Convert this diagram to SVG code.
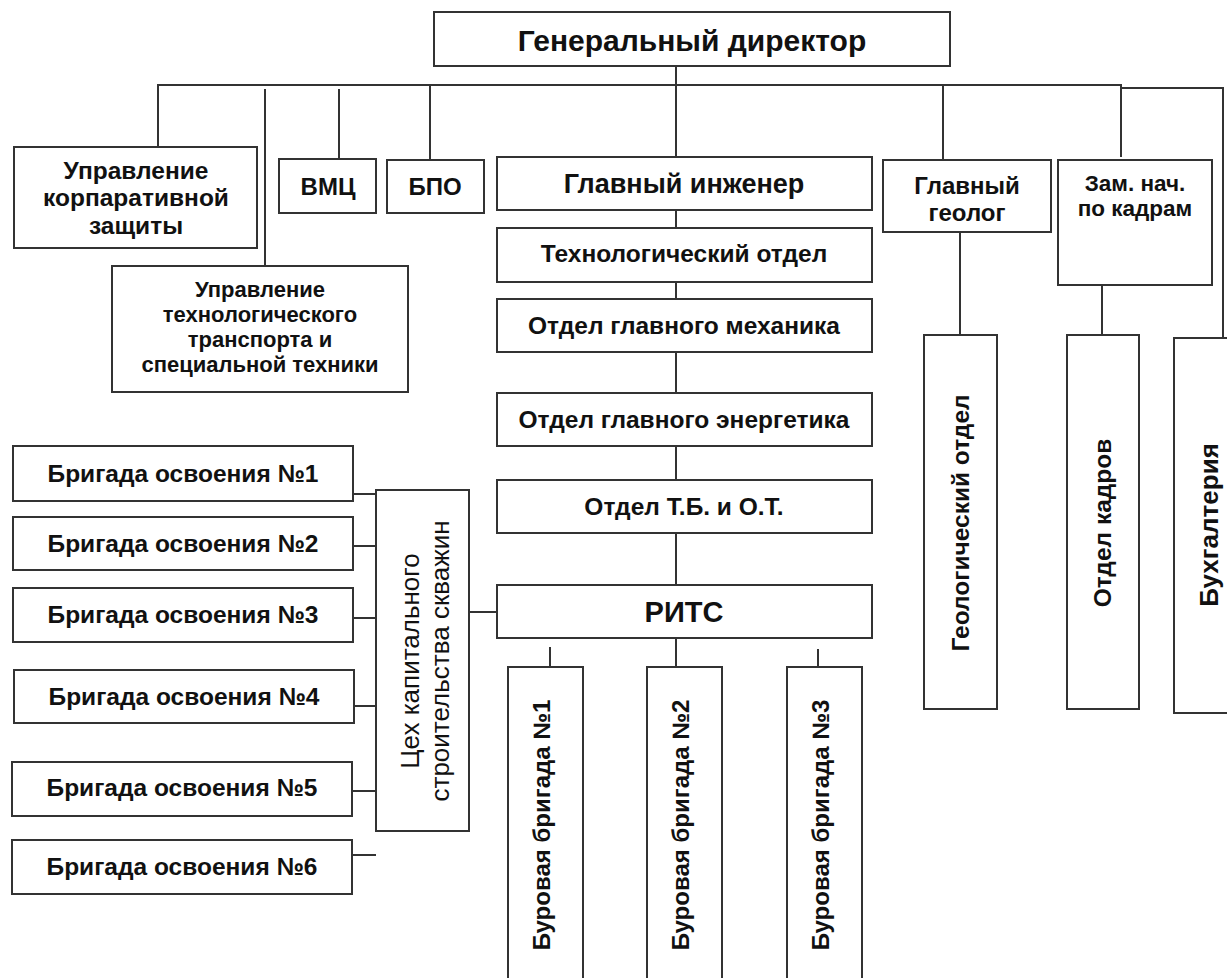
<svg xmlns="http://www.w3.org/2000/svg" width="1227" height="978" viewBox="0 0 1227 978">
<style>
.b{fill:#fff;stroke:#333;stroke-width:2}
.c{fill:none;stroke:#333;stroke-width:2}
text{font-family:"Liberation Sans",Arial,sans-serif;font-weight:bold;fill:#111;text-anchor:middle}
.n{font-weight:normal}
</style>
<rect width="1227" height="978" fill="#fff"/>
<g id="connectors">
<polyline class="c" points="158,147 158,85 1121,85 1121,157"/>
<polyline class="c" points="1121,88 1223,88 1223,338"/>
<line class="c" x1="676" y1="66" x2="676" y2="157"/>
<line class="c" x1="265" y1="89" x2="265" y2="266"/>
<line class="c" x1="339" y1="89" x2="339" y2="159"/>
<line class="c" x1="430" y1="85" x2="430" y2="160"/>
<line class="c" x1="943" y1="85" x2="943" y2="160"/>
<line class="c" x1="676" y1="210" x2="676" y2="228"/>
<line class="c" x1="676" y1="282" x2="676" y2="299"/>
<line class="c" x1="676" y1="352" x2="676" y2="393"/>
<line class="c" x1="676" y1="446" x2="676" y2="480"/>
<line class="c" x1="676" y1="533" x2="676" y2="585"/>
<line class="c" x1="676" y1="638" x2="676" y2="667"/>
<line class="c" x1="550" y1="647" x2="550" y2="667"/>
<line class="c" x1="818" y1="649" x2="818" y2="667"/>
<line class="c" x1="469" y1="612" x2="497" y2="612"/>
<line class="c" x1="960" y1="232" x2="960" y2="335"/>
<line class="c" x1="1102" y1="285" x2="1102" y2="335"/>
<line class="c" x1="353" y1="494" x2="376" y2="494"/>
<line class="c" x1="353" y1="546" x2="376" y2="546"/>
<line class="c" x1="353" y1="618" x2="376" y2="618"/>
<line class="c" x1="354" y1="706" x2="376" y2="706"/>
<line class="c" x1="352" y1="791" x2="376" y2="791"/>
<line class="c" x1="352" y1="855" x2="376" y2="855"/>
</g>
<g id="gen-director"><rect class="b" x="434" y="12" width="516" height="54"/><text x="692" y="51" font-size="30">Генеральный директор</text></g>
<g id="ukz"><rect class="b" x="14" y="147" width="243" height="101"/><text x="136" y="179" font-size="24.5">Управление</text><text x="136" y="206" font-size="24.5">корпаративной</text><text x="136" y="234" font-size="24.5">защиты</text></g>
<g id="utt"><rect class="b" x="112" y="266" width="296" height="126"/><text x="260" y="297" font-size="22">Управление</text><text x="260" y="322" font-size="22">технологического</text><text x="260" y="347" font-size="22">транспорта и</text><text x="260" y="372" font-size="22">специальной техники</text></g>
<g id="vmc"><rect class="b" x="279" y="159" width="97" height="54"/><text x="328" y="195" font-size="24">ВМЦ</text></g>
<g id="bpo"><rect class="b" x="387" y="160" width="97" height="53"/><text x="435" y="195" font-size="24">БПО</text></g>
<g id="chief-engineer"><rect class="b" x="497" y="157" width="375" height="53"/><text x="684" y="193" font-size="27">Главный инженер</text></g>
<g id="tech-dept"><rect class="b" x="497" y="228" width="375" height="54"/><text x="684" y="262" font-size="24.5">Технологический отдел</text></g>
<g id="mech-dept"><rect class="b" x="497" y="299" width="375" height="53"/><text x="684" y="334" font-size="24.5">Отдел главного механика</text></g>
<g id="energ-dept"><rect class="b" x="497" y="393" width="375" height="53"/><text x="684" y="428" font-size="24.5">Отдел главного энергетика</text></g>
<g id="tb-ot"><rect class="b" x="497" y="480" width="375" height="53"/><text x="684" y="515" font-size="24.5">Отдел Т.Б. и О.Т.</text></g>
<g id="rits"><rect class="b" x="497" y="585" width="375" height="53"/><text x="684" y="622" font-size="29">РИТС</text></g>
<g id="drill1"><rect class="b" x="508" y="667" width="75" height="330"/><text transform="translate(542,825) rotate(-90)" dy="0.35em" font-size="24">Буровая бригада №1</text></g>
<g id="drill2"><rect class="b" x="647" y="667" width="75" height="330"/><text transform="translate(681,825) rotate(-90)" dy="0.35em" font-size="24">Буровая бригада №2</text></g>
<g id="drill3"><rect class="b" x="787" y="667" width="75" height="330"/><text transform="translate(821,825) rotate(-90)" dy="0.35em" font-size="24">Буровая бригада №3</text></g>
<g id="chief-geologist"><rect class="b" x="883" y="160" width="168" height="72"/><text x="967" y="194" font-size="24">Главный</text><text x="967" y="221" font-size="24">геолог</text></g>
<g id="deputy-hr"><rect class="b" x="1058" y="160" width="154" height="125"/><text x="1135" y="191" font-size="22.5">Зам. нач.</text><text x="1135" y="216" font-size="22.5">по кадрам</text></g>
<g id="geo-dept"><rect class="b" x="924" y="335" width="73" height="374"/><text transform="translate(960,523) rotate(-90)" dy="0.35em" font-size="24.5">Геологический отдел</text></g>
<g id="hr-dept"><rect class="b" x="1067" y="335" width="72" height="374"/><text transform="translate(1102,523) rotate(-90)" dy="0.35em" font-size="24.5">Отдел кадров</text></g>
<g id="accounting"><rect class="b" x="1174" y="338" width="70" height="375"/><text transform="translate(1209,525) rotate(-90)" dy="0.35em" font-size="26">Бухгалтерия</text></g>
<g id="cks"><rect class="b" x="376" y="490" width="93" height="341"/><text class="n" transform="translate(410,661) rotate(-90)" dy="0.35em" font-size="26">Цех капитального</text><text class="n" transform="translate(440,661) rotate(-90)" dy="0.35em" font-size="26">строительства скважин</text></g>
<g id="br1"><rect class="b" x="13" y="446" width="340" height="55"/><text x="183" y="482" font-size="24.5">Бригада освоения №1</text></g>
<g id="br2"><rect class="b" x="13" y="517" width="340" height="53"/><text x="183" y="552" font-size="24.5">Бригада освоения №2</text></g>
<g id="br3"><rect class="b" x="13" y="588" width="340" height="54"/><text x="183" y="623" font-size="24.5">Бригада освоения №3</text></g>
<g id="br4"><rect class="b" x="14" y="670" width="340" height="53"/><text x="184" y="705" font-size="24.5">Бригада освоения №4</text></g>
<g id="br5"><rect class="b" x="12" y="762" width="340" height="54"/><text x="182" y="796" font-size="24.5">Бригада освоения №5</text></g>
<g id="br6"><rect class="b" x="12" y="840" width="340" height="54"/><text x="182" y="875" font-size="24.5">Бригада освоения №6</text></g>
</svg>
